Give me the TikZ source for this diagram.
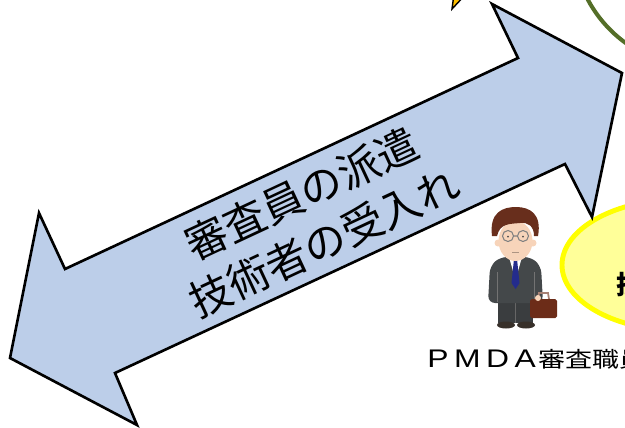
\documentclass[tikz,border=0pt]{standalone}
\usepackage{fontspec}
\setmainfont{Noto Sans CJK JP}
\newfontfamily\latinfont{Liberation Sans}

\definecolor{c2arrowBg}{RGB}{188,206,233}
\definecolor{c2ovalBg}{RGB}{255,255,153}
\definecolor{c2ovalLine}{RGB}{255,255,0}
\definecolor{c2ringLine}{RGB}{84,110,40}
\definecolor{c2tipBg}{RGB}{255,192,0}
\definecolor{c2hair}{RGB}{104,46,28}
\definecolor{c2skin}{RGB}{247,212,186}
\definecolor{c2suit}{RGB}{68,72,74}
\definecolor{c2tie}{RGB}{36,44,140}
\definecolor{c2case}{RGB}{108,44,24}
\definecolor{c2shoe}{RGB}{55,48,42}

\begin{document}
\begin{tikzpicture}[x=0.02cm, y=-0.02cm]
\clip (0,0) rectangle (625,427);
%% ── Green ring (top right) ───────────────────────────────────────────────
\draw[c2ringLine, line width=2.3pt] (700,-60) circle[radius=127];
%% ── Small yellow arrow tip (top) ─────────────────────────────────────────
\filldraw[fill=c2tipBg, draw=black, line width=0.8pt]
    (452,9) -- (466,-6) -- (454,-6) -- cycle;
%% ── Yellow oval (right) ──────────────────────────────────────────────────
\draw[fill=c2ovalBg, draw=c2ovalLine, line width=2.8pt]
    (682,265) ellipse[x radius=120, y radius=66];
\node[anchor=west, inner sep=0, font=\bfseries\fontsize{14.8}{16}\selectfont]
    (ovaltext) at (616,285) {技};
%% ── Double arrow ─────────────────────────────────────────────────────────
\draw[fill=c2arrowBg, draw=black, line width=1.5pt, line join=miter]
    (10,358) -- (137,425) -- (115,373) -- (565,164) -- (592,217)
    -- (622,73) -- (492,4) -- (518,58) -- (65,269) -- (39,213) -- cycle;
\node[rotate=25, align=center, font=\fontsize{23.8}{30.5}\selectfont]
    (exchange) at (313,218) {審査員の派遣\\技術者の受入れ};
%% ── Reviewer figure ──────────────────────────────────────────────────────
\fill[c2suit!85!black] (498,296) rectangle (533,323);
\draw[black!60, line width=0.4pt] (515.5,302) -- (515.5,323);
\fill[c2shoe] (506,325) ellipse[x radius=9, y radius=3.5]
              (526,325) ellipse[x radius=9, y radius=3.5];
\fill[c2suit, rounded corners=4pt]
    (488,303) -- (490,266) -- (500,257) -- (531,257) -- (541,266) -- (543,303) -- cycle;
\draw[black!55, line width=0.4pt] (497,272) -- (497,302) (534,272) -- (534,302);
\fill[white] (509,257) -- (522,257) -- (515.5,280) -- cycle;
\fill[c2tie] (514,259) -- (517,259) -- (519.5,283) -- (515.5,289) -- (511.5,283) -- cycle;
\fill[c2skin] (510,250) rectangle (521,258);
\fill[c2skin] (515.5,241) ellipse[x radius=17, y radius=20];
\fill[c2skin] (498,243) circle[radius=3.5] (533,243) circle[radius=3.5];
\fill[c2hair] (492,236) .. controls (489,212) and (503,207) .. (516,207)
    .. controls (530,207) and (542,214) .. (538,236) -- (534,236)
    .. controls (534,226) and (528,222) .. (520,223)
    .. controls (510,224) and (500,223) .. (497,236) -- cycle;
\draw[black!50, line width=0.6pt] (508,236) circle[radius=5.5] (523,236) circle[radius=5.5]
    (513.5,236) -- (517.5,236);
\fill[black!70] (508,236.5) circle[radius=1] (523,236.5) circle[radius=1];
\draw[c2skin!70!black, line width=0.4pt] (512,252) -- (519,252);
\draw[c2case!60!white, line width=1pt] (538,299) -- (539,293) -- (548,293) -- (549,299);
\fill[c2case, rounded corners=1pt] (530,299) rectangle (557,318);
\fill[c2skin] (538,298) circle[radius=3];
\node[anchor=west, inner sep=0, xscale=1.25, font=\fontsize{12.3}{14}\selectfont]
    (staff) at (427,359)
    {{\latinfont\fontsize{14.5}{14}\selectfont P\kern2.5pt M\kern2.5pt D\kern2.5pt A}\kern1pt 審査職員};
\end{tikzpicture}
\end{document}
